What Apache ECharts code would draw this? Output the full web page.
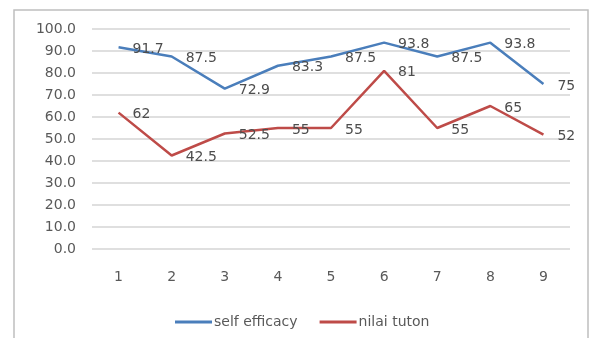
<!DOCTYPE html>
<html>
<head>
<meta charset="utf-8">
<script src="https://cdn.jsdelivr.net/npm/echarts@6/dist/echarts.min.js"></script>
<style>
  html, body { margin: 0; padding: 0; background: #fff; }
  #chart { width: 589px; height: 338px; }
</style>
</head>
<body>
<div id="chart"></div>
<script>
// Categories (meetings 1..9) and the two series
const categories = ['1', '2', '3', '4', '5', '6', '7', '8', '9'];
const selfEfficacy = [91.7, 87.5, 72.9, 83.3, 87.5, 93.8, 87.5, 93.8, 75];
const nilaiTuton = [62, 42.5, 52.5, 55, 55, 81, 55, 65, 52];
const yTicks = { min: 0, max: 100, interval: 10 };

const FONT = 'DejaVu Sans';
const TEXT = '#595959';

const chart = echarts.init(document.getElementById('chart'), null, { renderer: 'canvas' });

const labelStyle = {
  show: true,
  position: 'right',
  distance: 14,
  offset: [0, 2],
  color: '#4d4d4d',
  fontFamily: FONT,
  fontSize: 14,
  formatter: p => String(p.value)
};

chart.setOption({
  animation: false,
  backgroundColor: '#fff',
  graphic: [{
    type: 'rect',
    shape: { x: 14, y: 10, width: 574, height: 340 },
    style: { fill: 'none', stroke: '#bfbfbf', lineWidth: 1.5 },
    silent: true,
    z: -1
  }],
  grid: { left: 92, right: 19, top: 29, bottom: 89 },
  legend: {
    left: 170,
    top: 310,
    icon: 'rect',
    itemWidth: 37,
    itemHeight: 3,
    itemGap: 22,
    textStyle: { color: TEXT, fontFamily: FONT, fontSize: 14, padding: [0, 0, 0, -3] },
    data: ['self efficacy', 'nilai tuton']
  },
  xAxis: {
    type: 'category',
    data: categories,
    boundaryGap: true,
    axisLine: { show: false },
    axisTick: { show: false },
    axisLabel: { color: TEXT, fontFamily: FONT, fontSize: 14, margin: 21 }
  },
  yAxis: {
    type: 'value',
    min: yTicks.min,
    max: yTicks.max,
    interval: yTicks.interval,
    axisLine: { show: false },
    axisTick: { show: false },
    axisLabel: {
      color: TEXT, fontFamily: FONT, fontSize: 14, margin: 16,
      formatter: v => v.toFixed(1)
    },
    splitLine: { lineStyle: { color: '#d4d4d4', width: 1.5 } }
  },
  series: [
    {
      name: 'self efficacy',
      type: 'line',
      data: selfEfficacy,
      symbol: 'circle',
      symbolSize: 0,
      showSymbol: true,
      color: '#4a7ebb',
      lineStyle: { width: 2.5, color: '#4a7ebb' },
      label: labelStyle
    },
    {
      name: 'nilai tuton',
      type: 'line',
      data: nilaiTuton,
      symbol: 'circle',
      symbolSize: 0,
      showSymbol: true,
      color: '#be4b48',
      lineStyle: { width: 2.5, color: '#be4b48' },
      label: labelStyle
    }
  ]
});
</script>
</body>
</html>
